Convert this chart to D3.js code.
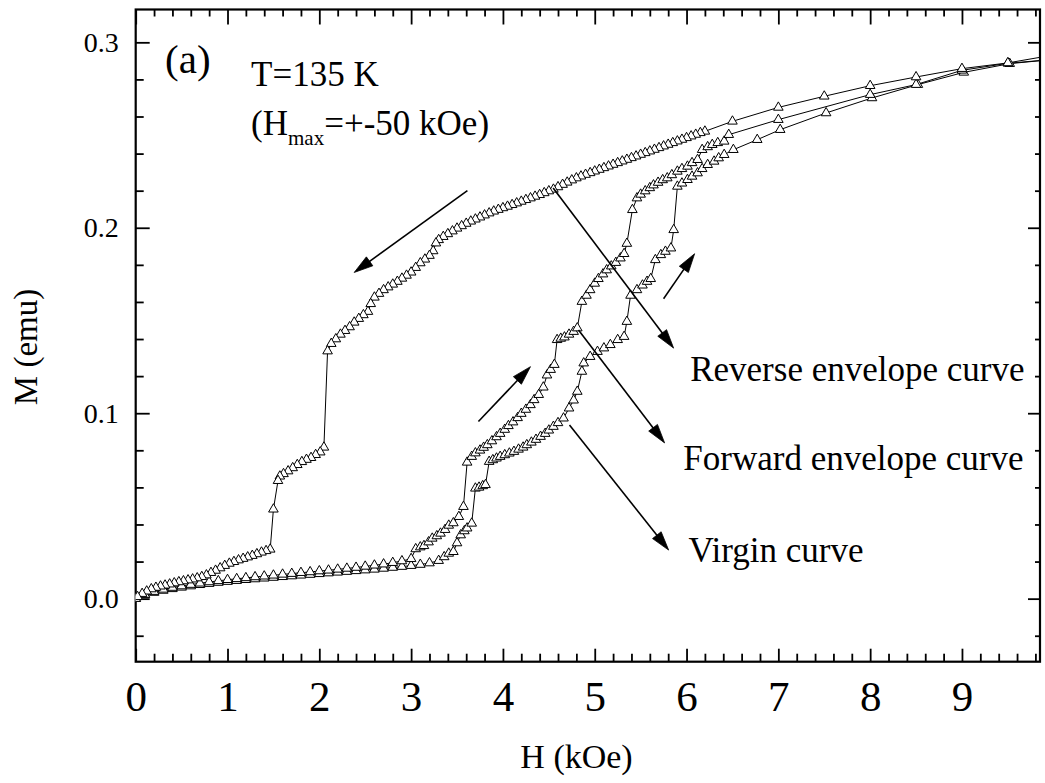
<!DOCTYPE html>
<html><head><meta charset="utf-8">
<script src="https://cdn.jsdelivr.net/npm/d3@7"></script>
<style>body{margin:0;background:#fff}</style>
</head><body>
<svg id="chart" width="1045" height="783"></svg>
<script>
// ---------- data (H in kOe, M in emu) ----------
const xTickLabels = [0,1,2,3,4,5,6,7,8,9];
const yTickLabels = [0.0,0.1,0.2,0.3];

const virginCurve = [
[0.0,.0000],[0.1,.0020],[0.2,.0033],[0.3,.0044],[0.4,.0053],[0.5,.0061],[0.6,.0068],[0.7,.0075],[0.8,.0081],[0.9,.0087],
[1.0,.0092],[1.1,.0097],[1.2,.0102],[1.3,.0106],[1.4,.0110],[1.5,.0114],[1.6,.0118],[1.7,.0122],[1.8,.0126],[1.9,.0130],
[2.0,.0134],[2.1,.0138],[2.2,.0142],[2.3,.0146],[2.4,.0150],[2.5,.0154],[2.6,.0158],[2.7,.0163],[2.8,.0168],[2.9,.0173],
[3.0,.0178],[3.1,.0184],[3.2,.0192],[3.3,.0205],[3.36,.0225],[3.41,.0244],[3.46,.0253],[3.50,.0300],[3.54,.0343],[3.58,.0365],
[3.61,.0380],[3.66,.0406],[3.70,.0595],[3.74,.0600],[3.78,.0608],[3.81,.0614],[3.85,.0739],[3.89,.0748],[3.93,.0757],[3.97,.0766],
[4.02,.0775],[4.07,.0784],[4.12,.0793],[4.17,.0805],[4.22,.0816],[4.26,.0829],[4.31,.0843],[4.36,.0858],[4.41,.0874],[4.46,.0890],
[4.50,.0908],[4.55,.0928],[4.60,.0948],[4.66,.0973],[4.72,.1027],[4.77,.1070],[4.81,.1117],[4.86,.1225],[4.88,.1270],[4.95,.1305],
[5.03,.1332],[5.10,.1351],[5.17,.1369],[5.25,.1396],[5.32,.1413],[5.35,.1494],[5.39,.1635],[5.46,.1665],[5.52,.1690],[5.57,.1710],
[5.61,.1725],[5.66,.1827],[5.72,.1854],[5.77,.1872],[5.83,.1890],[5.86,.1989],[5.90,.2223],[5.95,.2240],[6.01,.2259],[6.06,.2277],
[6.12,.2295],[6.17,.2318],[6.23,.2340],[6.30,.2358],[6.35,.2376],[6.41,.2394],[6.51,.2421],[6.77,.2475],[7.02,.2529],[7.52,.2619],
[8.02,.2700],[8.52,.2772],[9.02,.2838],[9.52,.2885],[10.0,.2908]
];

const forwardCurve = [
[0.0,.0000],[0.1,.0022],[0.2,.0038],[0.3,.0050],[0.4,.0060],[0.5,.0068],[0.6,.0076],[0.7,.0083],[0.8,.0090],[0.9,.0096],
[1.0,.0102],[1.1,.0107],[1.2,.0112],[1.3,.0117],[1.4,.0121],[1.5,.0126],[1.6,.0131],[1.7,.0135],[1.8,.0140],[1.9,.0144],
[2.0,.0149],[2.1,.0153],[2.2,.0158],[2.3,.0163],[2.4,.0168],[2.5,.0174],[2.6,.0180],[2.7,.0186],[2.8,.0194],[2.9,.0203],
[3.0,.0215],[3.05,.0268],[3.10,.0278],[3.14,.0285],[3.19,.0305],[3.23,.0325],[3.28,.0338],[3.32,.0352],[3.37,.0372],[3.41,.0395],
[3.46,.0408],[3.52,.0442],[3.57,.0496],[3.61,.0735],[3.66,.0766],[3.70,.0785],[3.75,.0800],[3.79,.0815],[3.83,.0829],[3.88,.0850],
[3.93,.0872],[3.97,.0890],[4.02,.0912],[4.06,.0932],[4.11,.0952],[4.16,.0975],[4.20,.0998],[4.25,.1020],[4.30,.1045],[4.34,.1072],
[4.39,.1100],[4.44,.1140],[4.48,.1205],[4.52,.1235],[4.56,.1262],[4.59,.1396],[4.63,.1403],[4.67,.1410],[4.72,.1425],[4.77,.1440],
[4.81,.1459],[4.86,.1602],[4.91,.1635],[4.95,.1665],[5.00,.1700],[5.04,.1725],[5.09,.1750],[5.13,.1772],[5.18,.1793],[5.23,.1812],
[5.28,.1836],[5.32,.1860],[5.35,.1915],[5.41,.2097],[5.46,.2160],[5.50,.2180],[5.55,.2198],[5.60,.2215],[5.64,.2230],[5.69,.2244],
[5.74,.2258],[5.79,.2268],[5.84,.2285],[5.90,.2304],[5.95,.2318],[6.01,.2331],[6.06,.2350],[6.12,.2367],[6.17,.2421],[6.23,.2436],
[6.28,.2448],[6.34,.2458],[6.41,.2466],[6.46,.2502],[7.0,.2583],[8.0,.2718],[8.5,.2772],[9.0,.2849],[9.5,.2887],[10.0,.2908]
];

const reverseCurve = [
[10.0,.2932],[9.5,.2889],[9.0,.2858],[8.5,.2813],[8.0,.2766],[7.5,.2709],[7.0,.2649],[6.5,.2574],[6.2,.2520],[6.15,.2512],
[6.10,.2503],[6.05,.2494],[6.00,.2485],[5.95,.2476],[5.90,.2467],[5.85,.2458],[5.80,.2449],[5.75,.2440],[5.70,.2431],[5.65,.2422],
[5.60,.2413],[5.55,.2404],[5.50,.2395],[5.45,.2386],[5.40,.2377],[5.35,.2368],[5.30,.2359],[5.25,.2350],[5.20,.2341],[5.15,.2332],
[5.10,.2323],[5.05,.2314],[5.00,.2305],[4.95,.2296],[4.90,.2287],[4.85,.2278],[4.80,.2268],[4.75,.2257],[4.70,.2245],[4.65,.2233],
[4.60,.2220],[4.55,.2207],[4.50,.2198],[4.45,.2188],[4.40,.2178],[4.35,.2169],[4.30,.2160],[4.25,.2151],[4.20,.2142],[4.15,.2133],
[4.10,.2124],[4.05,.2115],[4.00,.2107],[3.95,.2098],[3.90,.2089],[3.85,.2079],[3.80,.2068],[3.75,.2057],[3.70,.2046],[3.65,.2035],
[3.60,.2023],[3.55,.2010],[3.50,.1997],[3.45,.1982],[3.40,.1967],[3.35,.1952],[3.30,.1935],[3.27,.1917],[3.24,.1875],[3.20,.1850],
[3.15,.1830],[3.10,.1810],[3.05,.1785],[3.00,.1760],[2.95,.1743],[2.90,.1727],[2.85,.1710],[2.80,.1695],[2.75,.1680],[2.70,.1665],
[2.65,.1645],[2.60,.1625],[2.56,.1590],[2.53,.1548],[2.48,.1530],[2.43,.1510],[2.38,.1490],[2.33,.1465],[2.28,.1445],[2.23,.1425],
[2.18,.1400],[2.13,.1375],[2.09,.1335],[2.05,.0816],[2.01,.0790],[1.96,.0776],[1.91,.0760],[1.86,.0750],[1.81,.0738],[1.76,.0722],
[1.71,.0705],[1.66,.0688],[1.61,.0673],[1.57,.0660],[1.55,.0636],[1.50,.0482],[1.465,.0266],[1.42,.0258],[1.37,.0250],[1.32,.0241],
[1.27,.0232],[1.22,.0224],[1.17,.0216],[1.12,.0208],[1.07,.0199],[1.02,.0190],[0.97,.0178],[0.92,.0165],[0.87,.0152],[0.82,.0140],
[0.77,.0127],[0.72,.0118],[0.67,.0111],[0.62,.0105],[0.57,.0100],[0.52,.0095],[0.47,.0090],[0.42,.0084],[0.37,.0078],[0.32,.0072],
[0.27,.0067],[0.22,.0060],[0.17,.0052],[0.12,.0040],[0.07,.0027],[0.02,.0010]
];

// annotation arrows: [H start, M start, H tip, M tip]
const annotationArrows = [
[4.547,0.2215, 5.859,0.1351],
[4.823,0.1449, 5.761,0.0840],
[4.725,0.0937, 5.805,0.0262],
[3.613,0.2200, 2.380,0.1759],
[3.733,0.0955, 4.300,0.1251],
[5.750,0.1617, 6.088,0.1860]
];
const annotationLabels = [
{text:"Reverse envelope curve", h:6.04, m:0.1175},
{text:"Forward envelope curve", h:5.965, m:0.0694},
{text:"Virgin curve", h:6.02, m:0.0198}
];

// ---------- layout ----------
const W = 1045, Hgt = 783;
const margin = {left:135.7, top:9.5, right:5, bottom:121.3};
const FONT = "'Liberation Serif','Times New Roman',serif";
const svg = d3.select("#chart");

const x = d3.scaleLinear().domain([0, 9.85]).range([margin.left, W - margin.right]);
const y = d3.scaleLinear().domain([-0.034, 0.3177]).range([Hgt - margin.bottom, margin.top]);

const x0 = x.range()[0], x1 = x.range()[1], y0 = y.range()[0], y1 = y.range()[1];

svg.append("defs").append("clipPath").attr("id","plotclip")
  .append("rect").attr("x",x0).attr("y",y1).attr("width",x1-x0).attr("height",y0-y1);

// ---------- axes ----------
const xMinor = d3.range(0, 9.85, 0.2).filter(v => Math.abs(v - Math.round(v)) > 1e-6);
const yMinor = d3.range(-0.02, 0.32, 0.02).filter(v => Math.abs(v*10 - Math.round(v*10)) > 1e-6);

function styleAxis(g, fs){
  g.select(".domain").remove();
  g.selectAll("line").attr("stroke","#000").attr("stroke-width",1.8);
  g.selectAll("text").attr("font-family",FONT).attr("font-size",fs).attr("fill","#000");
}

// bottom
svg.append("g").attr("transform",`translate(0,${y0})`)
  .call(d3.axisBottom(x).tickValues(xTickLabels).tickSize(-13).tickPadding(19).tickFormat(d3.format("d")))
  .call(g => styleAxis(g, 43));
svg.append("g").attr("transform",`translate(0,${y0})`)
  .call(d3.axisBottom(x).tickValues(xMinor).tickSize(-8).tickFormat(""))
  .call(g => styleAxis(g, 10));
// top
svg.append("g").attr("transform",`translate(0,${y1})`)
  .call(d3.axisTop(x).tickValues(xTickLabels).tickSize(-15).tickFormat(""))
  .call(g => styleAxis(g, 10));
svg.append("g").attr("transform",`translate(0,${y1})`)
  .call(d3.axisTop(x).tickValues(xMinor).tickSize(-7).tickFormat(""))
  .call(g => styleAxis(g, 10));
// left
svg.append("g").attr("transform",`translate(${x0},0)`)
  .call(d3.axisLeft(y).tickValues(yTickLabels).tickSize(-14).tickPadding(17).tickFormat(d3.format(".1f")))
  .call(g => styleAxis(g, 28));
svg.append("g").attr("transform",`translate(${x0},0)`)
  .call(d3.axisLeft(y).tickValues(yMinor).tickSize(-8).tickFormat(""))
  .call(g => styleAxis(g, 10));
// right
svg.append("g").attr("transform",`translate(${x1},0)`)
  .call(d3.axisRight(y).tickValues(yTickLabels).tickSize(-12).tickFormat(""))
  .call(g => styleAxis(g, 10));
svg.append("g").attr("transform",`translate(${x1},0)`)
  .call(d3.axisRight(y).tickValues(yMinor).tickSize(-5).tickFormat(""))
  .call(g => styleAxis(g, 10));

// frame
svg.append("rect").attr("x",x0).attr("y",y1).attr("width",x1-x0).attr("height",y0-y1)
  .attr("fill","none").attr("stroke","#000").attr("stroke-width",2.2);

// axis titles
svg.append("text").attr("x",576.5).attr("y",768).attr("text-anchor","middle")
  .attr("font-family",FONT).attr("font-size",34).text("H (kOe)");
svg.append("text").attr("transform","translate(37,347) rotate(-90)").attr("text-anchor","middle")
  .attr("font-family",FONT).attr("font-size",33).text("M (emu)");

// ---------- curves ----------
const plot = svg.append("g").attr("clip-path","url(#plotclip)");
const line = d3.line().x(d => x(d[0])).y(d => y(d[1]));
const tri = d3.symbol().type(d3.symbolTriangle).size(40);

[virginCurve, forwardCurve, reverseCurve].forEach(curve => {
  plot.append("path").datum(curve).attr("d", line)
    .attr("fill","none").attr("stroke","#000").attr("stroke-width",1);
});
[virginCurve, forwardCurve, reverseCurve].forEach(curve => {
  plot.selectAll(null).data(curve).enter().append("path")
    .attr("d", tri)
    .attr("transform", d => `translate(${x(d[0])},${y(d[1])})`)
    .attr("fill","#fff").attr("stroke","#000").attr("stroke-width",1);
});

// ---------- annotation arrows ----------
const ann = svg.append("g");
annotationArrows.forEach(a => {
  const sx = x(a[0]), sy = y(a[1]), tx = x(a[2]), ty = y(a[3]);
  const dx = tx - sx, dy = ty - sy, len = Math.hypot(dx, dy);
  const ux = dx/len, uy = dy/len, nx = -uy, ny = ux;
  const L = 19, w = 5.5;
  const bx = tx - L*ux, by = ty - L*uy;
  ann.append("line").attr("x1",sx).attr("y1",sy).attr("x2",bx+3*ux).attr("y2",by+3*uy)
    .attr("stroke","#000").attr("stroke-width",1.6);
  ann.append("path")
    .attr("d",`M${tx},${ty}L${bx+w*nx},${by+w*ny}L${bx-w*nx},${by-w*ny}Z`)
    .attr("fill","#000").attr("stroke","#000").attr("stroke-width",0.8);
});

annotationLabels.forEach(l => {
  ann.append("text").attr("x",x(l.h)).attr("y",y(l.m))
    .attr("font-family",FONT).attr("font-size",35).text(l.text);
});

// panel texts
svg.append("text").attr("x",x(0.32)).attr("y",y(0.2836))
  .attr("font-family",FONT).attr("font-size",41).text("(a)");
svg.append("text").attr("x",x(1.257)).attr("y",y(0.2766))
  .attr("font-family",FONT).attr("font-size",35).text("T=135 K");
const ht = svg.append("text").attr("x",x(1.257)).attr("y",y(0.2502))
  .attr("font-family",FONT).attr("font-size",35);
ht.append("tspan").text("(H");
ht.append("tspan").attr("font-size",21).attr("dy",10).text("max");
ht.append("tspan").attr("dy",-10).text("=+-50 kOe)");
</script>
</body></html>
